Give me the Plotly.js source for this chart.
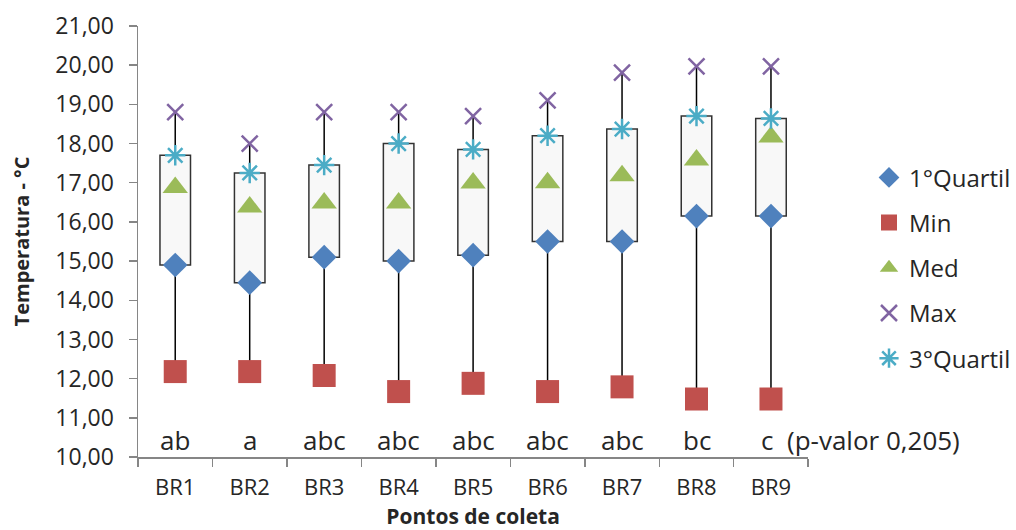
<!DOCTYPE html>
<html>
<head>
<meta charset="utf-8">
<script src="https://cdn.plot.ly/plotly-3.0.1.min.js"></script>
<style>html,body{margin:0;padding:0;background:#fff;}#chart{width:1016px;height:530px;}</style>
</head>
<body>
<div id="chart"></div>
<script>
const categories = ['BR1','BR2','BR3','BR4','BR5','BR6','BR7','BR8','BR9'];
const q1Values  = [14.90, 14.45, 15.10, 15.00, 15.15, 15.50, 15.50, 16.15, 16.15];
const minValues = [12.18, 12.18, 12.08, 11.67, 11.88, 11.67, 11.79, 11.48, 11.48];
const medValues = [16.88, 16.38, 16.48, 16.48, 16.99, 17.00, 17.18, 17.58, 18.17];
const maxValues = [18.80, 18.00, 18.80, 18.80, 18.70, 19.10, 19.81, 19.97, 19.97];
const q3Values  = [17.70, 17.25, 17.45, 18.00, 17.85, 18.20, 18.37, 18.70, 18.64];
const groupLetters = ['ab','a','abc','abc','abc','abc','abc','bc','c  (p-valor 0,205)'];

const FONT = '"Open Sans", "DejaVu Sans", sans-serif';
const TXT = '#262626';

const traces = [
  {type:'bar', x: categories, base: q1Values, y: q1Values.map((v,i)=>q3Values[i]-v),
   width: 0.41, marker:{color:'#f8f8f8', line:{color:'#333', width:1.5}},
   showlegend:false, hoverinfo:'skip'}
];
// whiskers: min->q1 (lower) and q3->max (upper), one short line trace per category
categories.forEach((c, i) => {
  traces.push({type:'scatter', mode:'lines', x:[c, c], y:[minValues[i], q1Values[i]],
    line:{color:'#000', width:1.5}, showlegend:false, hoverinfo:'skip'});
  traces.push({type:'scatter', mode:'lines', x:[c, c], y:[q3Values[i], maxValues[i]],
    line:{color:'#000', width:1.5}, showlegend:false, hoverinfo:'skip'});
});
traces.push(
  {type:'scatter', mode:'markers', name:'1°Quartil', x: categories, y: q1Values, legendgroup:'a',
   marker:{symbol:'diamond', size:19, color:'#4F81BD'}},
  {type:'scatter', mode:'markers', name:'Min', x: categories, y: minValues, legendgroup:'b',
   marker:{symbol:'square', size:23, color:'#C0504D'}},
  {type:'scatter', mode:'markers', name:'Med', x: categories, y: medValues, legendgroup:'c',
   marker:{symbol:'triangle-up', size:22, color:'#9BBB59'}},
  {type:'scatter', mode:'markers', name:'Max', x: categories, y: maxValues, legendgroup:'d',
   marker:{symbol:'x-thin', size:16, color:'#8064A2', line:{color:'#8064A2', width:2.5}}},
  {type:'scatter', mode:'markers', name:'3°Quartil', x: categories, y: q3Values, legendgroup:'e',
   marker:{symbol:'asterisk', size:17, color:'#4BACC6', line:{color:'#4BACC6', width:2.5}}}
);

const annotations = groupLetters.map((t, i) => {
  const last = i === groupLetters.length - 1;
  return {x: categories[i], y: 10.43, xref:'x', yref:'y', text: t, showarrow:false,
    xanchor: last ? 'left' : 'center', xshift: last ? -12 : 0,
    font:{family:FONT, size:26, color:TXT}};
});

const layout = {
  width:1016, height:530,
  margin:{l:138, r:0, t:26, b:73},
  paper_bgcolor:'#fff', plot_bgcolor:'#fff',
  separators: ',.',
  font:{family:FONT, size:24, color:TXT},
  barmode:'overlay',
  xaxis:{
    type:'category', categoryorder:'array', categoryarray: categories,
    range:[-0.5, categories.length - 0.5], autorange:false,
    domain:[0, 0.7642], showgrid:false, zeroline:false,
    showline:true, linecolor:'#868686', linewidth:1.5,
    ticks:'outside', tickson:'boundaries', ticklen:8, tickcolor:'#868686', tickwidth:1.5,
    ticklabelstandoff: 10, automargin:false,
    tickfont:{family:FONT, size:22, color:TXT},
    title:{text:'<b>Pontos de coleta</b>', font:{family:FONT, size:21, color:TXT}, standoff:19}
  },
  yaxis:{
    range:[10,21], dtick:1, tickformat:'.2f', showgrid:false, zeroline:false,
    showline:true, linecolor:'#868686', linewidth:1.5,
    ticks:'outside', ticklen:8, tickcolor:'#868686', tickwidth:1.5,
    ticklabelstandoff: 10,
    tickfont:{family:FONT, size:23, color:TXT},
    title:{text:'<b>Temperatura - °C</b>', font:{family:FONT, size:20, color:TXT}, standoff:20}
  },
  legend:{x:0.8337, xanchor:'left', y:0.70, yanchor:'top', tracegroupgap:11,
    font:{family:FONT, size:24, color:TXT}, bgcolor:'rgba(0,0,0,0)'},
  annotations: annotations,
  showlegend:true
};

Plotly.newPlot('chart', traces, layout, {displayModeBar:false, staticPlot:true});
</script>
</body>
</html>
